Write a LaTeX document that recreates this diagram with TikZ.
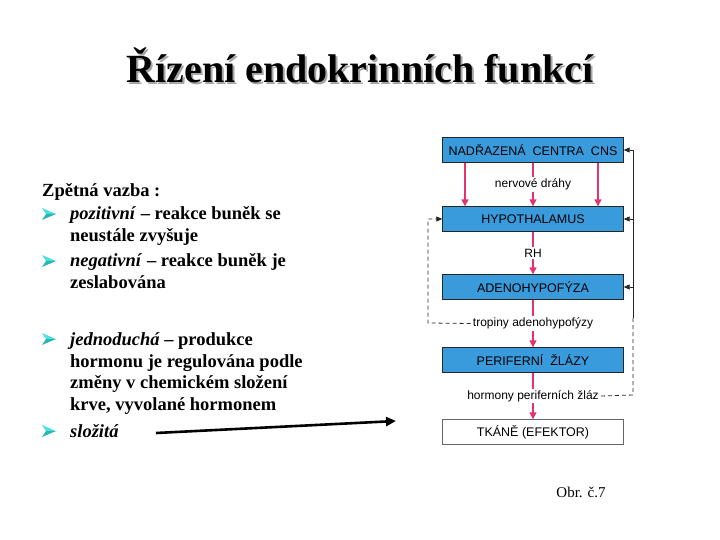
\documentclass[tikz,border=0pt]{standalone}
\usepackage{fontspec}
\setmainfont{Liberation Serif}
\newfontfamily\diagfont{Liberation Sans}
\usetikzlibrary{arrows.meta,positioning}
\definecolor{organblue}{HTML}{3A9BDC}
\definecolor{pathred}{HTML}{E2336E}
\definecolor{bulcyan}{HTML}{4EE0E0}
\definecolor{bulteal}{HTML}{2AB4B4}

\begin{document}
\begin{tikzpicture}[x=1bp, y=-1bp,
    organ/.style={draw=black!85, fill=organblue, minimum width=181bp, minimum height=25bp, inner sep=0pt, font=\diagfont\fontsize{12.5bp}{14bp}\selectfont},
    tissue/.style={organ, fill=white, draw=black!60},
    lbl/.style={fill=white, inner sep=1.5bp, font=\diagfont\fontsize{12bp}{14bp}\selectfont},
    redarrow/.style={-{Triangle[length=7bp,width=7bp]}, draw=pathred, line width=1.5bp},
    fb/.style={draw=black!85, line width=0.8bp},
    fbdash/.style={fb, dash pattern=on 4bp off 3bp},
    fbarrow/.style={fb, -{Triangle[length=6bp,width=5bp]}},
    txt/.style={anchor=base west, inner sep=0pt, font=\bfseries\fontsize{18.5bp}{22bp}\selectfont},
    bul/.pic={
      \fill[bulcyan] (0,-6) -- (14,0) -- (4,0) -- cycle;
      \fill[bulteal] (0,6) -- (14,0) -- (4,0) -- cycle;
    }
  ]
    \useasboundingbox (0,0) rectangle (720,540);
    % title
    \node[anchor=base, text=black!35, font=\bfseries\fontsize{40bp}{44bp}\selectfont] (titleshadow) at (362,85) {Řízení endokrinních funkcí};
    \node[anchor=base, font=\bfseries\fontsize{40bp}{44bp}\selectfont] (title) at (360,83) {Řízení endokrinních funkcí};
    % left column
    \node[txt] (head) at (42,197) {Zpětná vazba :};
    \pic at (42,214) {bul};
    \node[txt] (pos1) at (70,220) {\textit{pozitivní} – reakce buněk se};
    \node[txt] (pos2) at (70,242) {neustále zvyšuje};
    \pic at (42,261) {bul};
    \node[txt] (neg1) at (70,267) {\textit{negativní} – reakce buněk je};
    \node[txt] (neg2) at (70,288) {zeslabována};
    \pic at (42,339) {bul};
    \node[txt] (jed1) at (70,345) {\textit{jednoduchá} – produkce};
    \node[txt] (jed2) at (70,367) {hormonu je regulována podle};
    \node[txt] (jed3) at (70,388) {změny v chemickém složení};
    \node[txt] (jed4) at (70,410) {krve, vyvolané hormonem};
    \pic at (42,431) {bul};
    \node[txt] (slo) at (70,437) {\textit{složitá}};
    \coordinate (bigstart) at (156,433);
    \coordinate (bigtip) at (396,421);
    \draw[-{Triangle[length=10bp,width=9bp]}, line width=2.6bp] (bigstart) -- (bigtip);
    % diagram
    \node[organ] (cns) at (533,150) {NADŘAZENÁ\ \ CENTRA\ \ CNS};
    \node[organ] (hypo) at (533,219) {HYPOTHALAMUS};
    \node[organ] (adeno) at (533,287) {ADENOHYPOFÝZA};
    \node[organ] (perif) at (533,360) {PERIFERNÍ\ \ ŽLÁZY};
    \node[tissue] (tkane) at (533,432) {TKÁNĚ\ (EFEKTOR)};
    \draw[redarrow] ([xshift=-68bp]cns.south) -- ([xshift=-68bp]hypo.north);
    \draw[redarrow] (cns.south) -- node[lbl] (nerv) {nervové\ dráhy} (hypo.north);
    \draw[redarrow] ([xshift=65bp]cns.south) -- ([xshift=65bp]hypo.north);
    \draw[redarrow] (hypo) -- node[lbl] (rh) {RH} (adeno);
    \draw[redarrow] (adeno) -- node[lbl] (trop) {tropiny\ adenohypofýzy} (perif);
    \draw[redarrow] (perif) -- node[lbl] (horm) {hormony periferních žláz} (tkane);
    % feedback loops
    \coordinate (fbleft) at (428,323);
    \coordinate (fbcorner) at (633,395);
    \coordinate (fbmid) at (633,318);
    \draw[fbdash, -{Triangle[length=6bp,width=5bp]}] (trop.west) -- (fbleft) -- (hypo.west -| fbleft) -- (hypo.west);
    \draw[fbdash] (horm.east) -- (fbcorner) -- (fbmid);
    \draw[fbarrow] (fbmid) -- (cns.east -| fbmid) -- (cns.east);
    \draw[fbarrow] (hypo.east -| fbmid) -- (hypo.east);
    \draw[fbarrow] (adeno.east -| fbmid) -- (adeno.east);
    \node[anchor=base, font=\fontsize{15bp}{17bp}\selectfont] (obr) at (581,497) {Obr. č.7};
  \end{tikzpicture}
\end{document}
